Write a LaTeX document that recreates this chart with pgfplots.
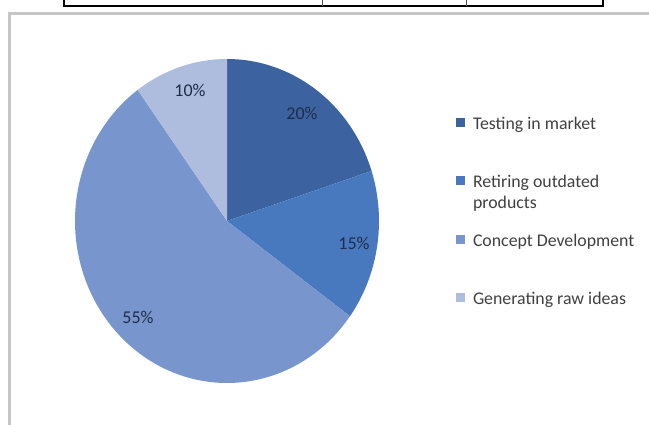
\documentclass[border=0pt]{standalone}
\usepackage{pgfplots}
\pgfplotsset{compat=1.18}
\usepackage{fontspec}
\setmainfont{Carlito}
\definecolor{cA}{HTML}{3D62A0}
\definecolor{cB}{HTML}{4878BE}
\definecolor{cC}{HTML}{7896CD}
\definecolor{cD}{HTML}{AEBCDE}
\definecolor{lbl}{HTML}{1F2D4A}
\definecolor{legtxt}{HTML}{404040}
% data (percent)
\def\vA{20}% Testing in market
\def\vB{15}% Retiring outdated products
\def\vC{55}% Concept Development
\def\vD{10}% Generating raw ideas
\pgfmathsetmacro\aA{90-3.6*\vA}
\pgfmathsetmacro\aB{\aA-3.6*\vB}
\pgfmathsetmacro\aC{\aB-3.6*\vC}
\pgfmathsetmacro\aD{\aC-3.6*\vD}
\def\cx{227}\def\cy{204}\def\rx{152}\def\ry{162}
\newcommand{\legtext}[1]{\raisebox{0pt}[12bp][4bp]{\parbox[t]{170bp}{\raggedright\fontsize{17.8bp}{21bp}\selectfont\color{legtxt}#1}}}
\begin{document}
\begin{tikzpicture}
\begin{axis}[
  width=649bp, height=425bp, scale only axis,
  xmin=0, xmax=649, ymin=0, ymax=425,
  axis lines=none,
  legend image code/.code={\fill[#1] (0bp,-15bp) rectangle (9bp,-6bp);},
  legend cell align=left,
  legend style={at={(axis cs:456,320)}, anchor=north west, draw=none, fill=none,
    inner sep=0pt, outer sep=0pt, row sep=36.8bp,
    nodes={inner sep=0pt, outer sep=0pt},
    /tikz/every odd column/.append style={column sep=8bp}},
]
\path (axis cs:0,0) rectangle (axis cs:649,425);
% frame and table fragment
\draw[line width=3bp, gray!45] (axis cs:9,0) -- (axis cs:9,411) -- (axis cs:649,411);
\draw[line width=1.2bp, black] (axis cs:64,425) -- (axis cs:64,419) -- (axis cs:603,419) -- (axis cs:603,425);
\draw[line width=1bp, black!70] (axis cs:322,425) -- (axis cs:322,419);
\draw[line width=1bp, black!70] (axis cs:466,425) -- (axis cs:466,419);
% pie sectors
\addplot[fill=cA, draw=none, domain=\aA:90, samples=60, variable=\t]
  ({\cx+\rx*cos(\t)},{\cy+\ry*sin(\t)}) -- (axis cs:\cx,\cy) -- cycle;
\addlegendentry{\legtext{Testing in market}}
\addplot[fill=cB, draw=none, domain=\aB:\aA, samples=50, variable=\t]
  ({\cx+\rx*cos(\t)},{\cy+\ry*sin(\t)}) -- (axis cs:\cx,\cy) -- cycle;
\addlegendentry{\legtext{Retiring outdated\\products}}
\addplot[fill=cC, draw=none, domain=\aC:\aB, samples=150, variable=\t]
  ({\cx+\rx*cos(\t)},{\cy+\ry*sin(\t)}) -- (axis cs:\cx,\cy) -- cycle;
\addlegendentry{\legtext{Concept Development}}
\addplot[fill=cD, draw=none, domain=\aD:\aC, samples=40, variable=\t]
  ({\cx+\rx*cos(\t)},{\cy+\ry*sin(\t)}) -- (axis cs:\cx,\cy) -- cycle;
\addlegendentry{\legtext{Generating raw ideas}}
% percentage labels
\node[font=\fontsize{18bp}{20bp}\selectfont, text=lbl] at (axis cs:302,312) {20\%};
\node[font=\fontsize{18bp}{20bp}\selectfont, text=lbl] at (axis cs:354,182) {15\%};
\node[font=\fontsize{18bp}{20bp}\selectfont, text=lbl] at (axis cs:138,108) {55\%};
\node[font=\fontsize{18bp}{20bp}\selectfont, text=lbl] at (axis cs:190,335) {10\%};
\end{axis}
\end{tikzpicture}
\end{document}
